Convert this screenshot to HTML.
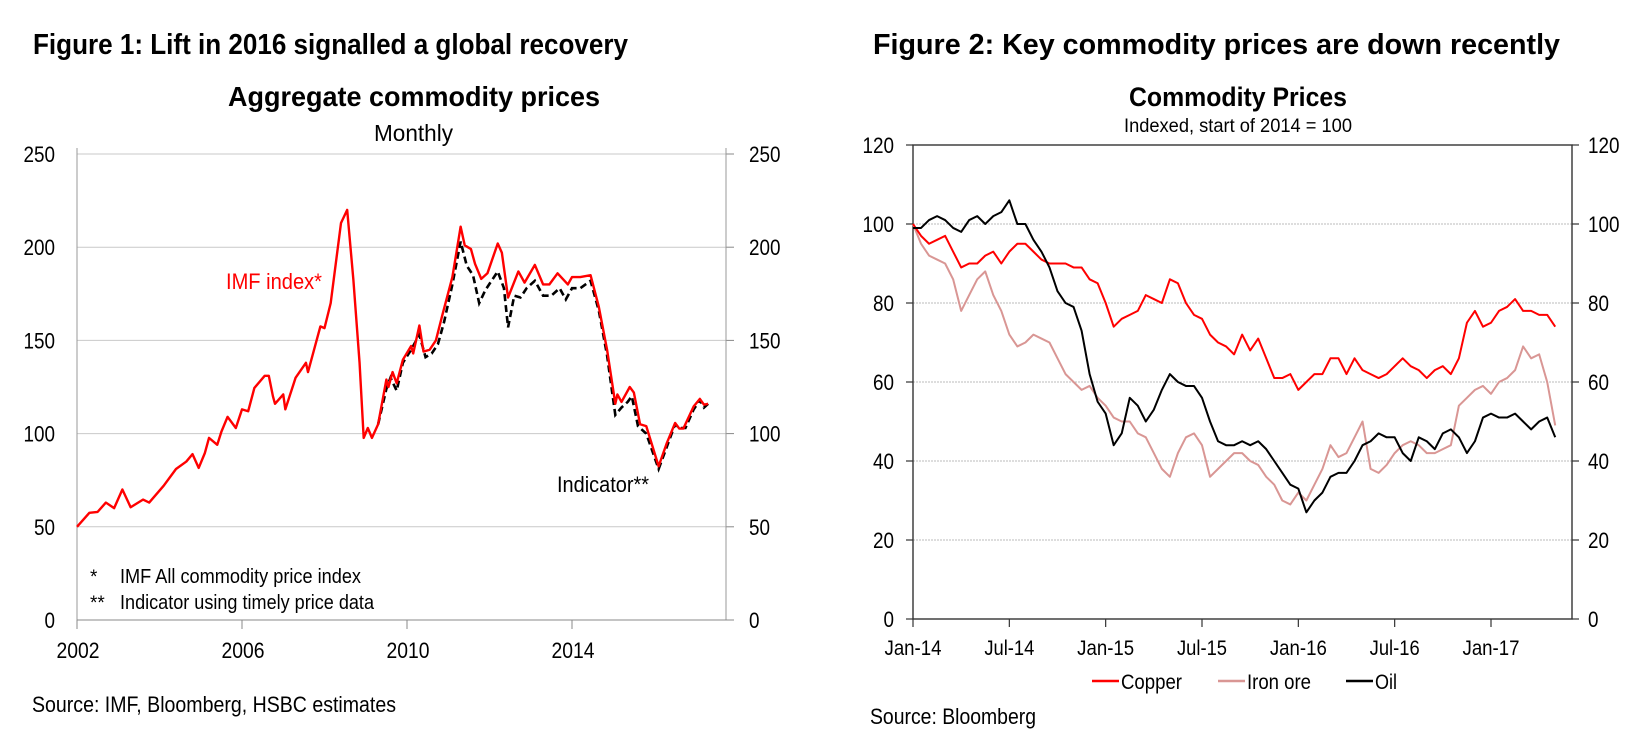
<!DOCTYPE html>
<html><head><meta charset="utf-8">
<style>
html,body{margin:0;padding:0;background:#fff;}
svg{display:block;font-family:"Liberation Sans Narrow","Liberation Sans",sans-serif;}
</style></head>
<body>
<svg id="root" width="1629" height="741" viewBox="0 0 1629 741">
<text x="33" y="54" font-size="29" font-weight="bold" textLength="595" lengthAdjust="spacingAndGlyphs">Figure 1: Lift in 2016 signalled a global recovery</text>
<text x="228" y="106" font-size="28" font-weight="bold" textLength="372" lengthAdjust="spacingAndGlyphs">Aggregate commodity prices</text>
<text x="374" y="141" font-size="23" textLength="79" lengthAdjust="spacingAndGlyphs">Monthly</text>
<text x="873" y="54" font-size="29" font-weight="bold" textLength="687" lengthAdjust="spacingAndGlyphs">Figure 2: Key commodity prices are down recently</text>
<text x="1129" y="106" font-size="27" font-weight="bold" textLength="218" lengthAdjust="spacingAndGlyphs">Commodity Prices</text>
<text x="1124" y="132" font-size="19" textLength="228" lengthAdjust="spacingAndGlyphs">Indexed, start of 2014 = 100</text>
<text x="32" y="712" font-size="22" textLength="364" lengthAdjust="spacingAndGlyphs">Source: IMF, Bloomberg, HSBC estimates</text>
<text x="870" y="724" font-size="22" textLength="166" lengthAdjust="spacingAndGlyphs">Source: Bloomberg</text>
<g id="c1"></g>
<g id="c2"></g>
</svg>
<script>
// ---------- Chart 1 data ----------
const imfYears=[2002.0,2002.3,2002.5,2002.7,2002.9,2003.1,2003.3,2003.6,2003.75,2004.1,2004.4,2004.65,2004.8,2004.95,2005.1,2005.2,2005.4,2005.5,2005.65,2005.85,2006.0,2006.15,2006.3,2006.55,2006.65,2006.75,2006.8,2007.0,2007.05,2007.3,2007.55,2007.6,2007.9,2008.0,2008.15,2008.4,2008.55,2008.7,2008.85,2008.95,2009.05,2009.15,2009.3,2009.5,2009.55,2009.65,2009.75,2009.9,2010.1,2010.15,2010.3,2010.4,2010.55,2010.7,2010.85,2011.1,2011.3,2011.4,2011.55,2011.65,2011.8,2011.95,2012.2,2012.3,2012.45,2012.7,2012.85,2013.1,2013.3,2013.45,2013.65,2013.9,2014.0,2014.2,2014.45,2014.65,2014.85,2015.05,2015.1,2015.2,2015.4,2015.5,2015.65,2015.8,2016.1,2016.3,2016.5,2016.6,2016.7,2016.95,2017.1,2017.2,2017.3];
const imfValues=[50,57.5,58,63,60,70,60.5,64.6,63,72,81,85,89,81.6,89.6,97.7,94,101,109,103,113,112,124.5,131,131,120,116,121,113,130,138,133,157.5,156.6,170,213,220,182.5,138,97.7,103,97.7,105,129,125,133,127,139.6,147,143,158,144,145,150,163,184,211,201,199,191,183,186,202,197,173,187,181,190.5,180,180,186,180,184,184,185,168,145,116,121,117,125,122,105,104,82.5,95,105.7,102.7,102.7,114.6,118.6,115.5,116];
const indYears=[2009.3,2009.5,2009.6,2009.75,2009.9,2010.1,2010.3,2010.45,2010.6,2010.75,2010.9,2011.1,2011.3,2011.45,2011.6,2011.75,2011.9,2012.2,2012.35,2012.45,2012.6,2012.75,2012.9,2013.1,2013.3,2013.5,2013.7,2013.85,2014.0,2014.2,2014.45,2014.65,2014.85,2015.05,2015.2,2015.35,2015.45,2015.6,2015.8,2016.1,2016.3,2016.5,2016.6,2016.75,2016.95,2017.1,2017.2,2017.3];
const indValues=[105,124,130,123,138,145,153,141,143,148,160,180,203,190,185,170,177,187,178,157,174,173,178,182,174,174,178,172,178,178,182,166,142,110,114,117,120,104,100,81,93,105,103,103,113,118,114,116];
const c1YTicks=[0,50,100,150,200,250];
const c1XTicks=[2002,2006,2010,2014];

// ---------- Chart 2 data (half-month steps from Jan-14) ----------
const c2Step=0.5;
const copper=[100,97,95,96,97,93,89,90,90,92,93,90,93,95,95,93,91,90,90,90,89,89,86,85,80,74,76,77,78,82,81,80,86,85,80,77,76,72,70,69,67,72,68,71,66,61,61,62,58,60,62,62,66,66,62,66,63,62,61,62,64,66,64,63,61,63,64,62,66,75,78,74,75,78,79,81,78,78,77,77,74];
const ironOre=[100,95,92,91,90,86,78,82,86,88,82,78,72,69,70,72,71,70,66,62,60,58,59,56,54,51,50,50,47,46,42,38,36,42,46,47,44,36,38,40,42,42,40,39,36,34,30,29,32,30,34,38,44,41,42,46,50,38,37,39,42,44,45,44,42,42,43,44,54,56,58,59,57,60,61,63,69,66,67,60,49];
const oil=[99,99,101,102,101,99,98,101,102,100,102,103,106,100,100,96,93,89,83,80,79,73,62,55,52,44,47,56,54,50,53,58,62,60,59,59,56,50,45,44,44,45,44,45,43,40,37,34,33,27,30,32,36,37,37,40,44,45,47,46,46,42,40,46,45,43,47,48,46,42,45,51,52,51,51,52,50,48,50,51,46];
const c2YTicks=[0,20,40,60,80,100,120];
const c2XLabels=["Jan-14","Jul-14","Jan-15","Jul-15","Jan-16","Jul-16","Jan-17"];
const c2XMonths=[0,6,12,18,24,30,36];

const NS="http://www.w3.org/2000/svg";
function mk(parent,tag,attrs,text){const e=document.createElementNS(NS,tag);for(const k in attrs)e.setAttribute(k,attrs[k]);if(text!==undefined)e.textContent=text;parent.appendChild(e);return e;}
const numW=s=>String(s).length*10.5;

// ---------- Chart 1 ----------
const c1=document.getElementById('c1');
const L1=77,R1=726,B1=620,T1=154;
const x1=yr=>L1+(yr-2002)*41.25;
const y1=v=>B1-(v/250)*(B1-T1);
c1YTicks.forEach(t=>{
  if(t>0){const g=mk(c1,'line',{x1:L1,x2:R1,y1:y1(t),y2:y1(t),stroke:'#c9c9c9','stroke-width':1});
  
  }
  const tk=mk(c1,'line',{x1:R1,x2:R1+8,y1:y1(t),y2:y1(t),stroke:'#888','stroke-width':1});
  
  
  const a=mk(c1,'text',{x:55,y:y1(t)+8,'font-size':22,'text-anchor':'end',textLength:numW(t),lengthAdjust:'spacingAndGlyphs'},t);
  
  
  const b=mk(c1,'text',{x:749,y:y1(t)+8,'font-size':22,textLength:numW(t),lengthAdjust:'spacingAndGlyphs'},t);
  
  
});
let ax=mk(c1,'line',{x1:L1,x2:L1,y1:T1-6,y2:B1,stroke:'#999','stroke-width':1});


ax=mk(c1,'line',{x1:R1,x2:R1,y1:T1-6,y2:B1,stroke:'#999','stroke-width':1});


ax=mk(c1,'line',{x1:L1,x2:R1+8,y1:B1,y2:B1,stroke:'#888','stroke-width':1});


c1XTicks.forEach(t=>{
  const tk=mk(c1,'line',{x1:x1(t),x2:x1(t),y1:B1,y2:B1+9,stroke:'#888','stroke-width':1});
  
  
  const l=mk(c1,'text',{x:x1(t)+1,y:658,'font-size':22,'text-anchor':'middle',textLength:43,lengthAdjust:'spacingAndGlyphs'},t);
  
  
});
let p=mk(c1,'polyline',{points:indYears.map((d,i)=>x1(d)+','+y1(indValues[i])).join(' '),fill:'none',stroke:'#000','stroke-width':2.6,'stroke-dasharray':'7,4'});


p=mk(c1,'polyline',{points:imfYears.map((d,i)=>x1(d)+','+y1(imfValues[i])).join(' '),fill:'none',stroke:'#f00','stroke-width':2.4,'stroke-linejoin':'round'});


let t=mk(c1,'text',{x:226,y:289,'font-size':22,fill:'#f00',textLength:96,lengthAdjust:'spacingAndGlyphs'},'IMF index*');


t=mk(c1,'text',{x:557,y:492,'font-size':22,textLength:92,lengthAdjust:'spacingAndGlyphs'},'Indicator**');


t=mk(c1,'text',{x:90,y:583,'font-size':19},'*');


t=mk(c1,'text',{x:120,y:583,'font-size':20,textLength:241,lengthAdjust:'spacingAndGlyphs'},'IMF All commodity price index');


t=mk(c1,'text',{x:90,y:609,'font-size':19},'**');


t=mk(c1,'text',{x:120,y:609,'font-size':20,textLength:254,lengthAdjust:'spacingAndGlyphs'},'Indicator using timely price data');



// ---------- Chart 2 ----------
const c2=document.getElementById('c2');
const L2=913,R2=1572,B2=619,T2=145;
const x2=m=>L2+m*(1491-913)/36;
const y2=v=>B2-(v/120)*(B2-T2);
c2YTicks.forEach(v=>{
  if(v>0&&v<120){const g=mk(c2,'line',{x1:L2,x2:R2,y1:y2(v),y2:y2(v),stroke:'#bbb','stroke-width':1,'stroke-dasharray':'2,1'});
  
  }
  let tk=mk(c2,'line',{x1:L2-7,x2:L2,y1:y2(v),y2:y2(v),stroke:'#333','stroke-width':1.2});
  
  
  tk=mk(c2,'line',{x1:R2,x2:R2+7,y1:y2(v),y2:y2(v),stroke:'#333','stroke-width':1.2});
  
  
  const a=mk(c2,'text',{x:894,y:y2(v)+8,'font-size':22,'text-anchor':'end',textLength:numW(v),lengthAdjust:'spacingAndGlyphs'},v);
  
  
  const b=mk(c2,'text',{x:1588,y:y2(v)+8,'font-size':22,textLength:numW(v),lengthAdjust:'spacingAndGlyphs'},v);
  
  
});
const fr=mk(c2,'rect',{x:L2,y:T2,width:R2-L2,height:B2-T2,fill:'none',stroke:'#333','stroke-width':1.4});


c2XMonths.forEach((m,i)=>{
  const tk=mk(c2,'line',{x1:x2(m),x2:x2(m),y1:B2,y2:B2+8,stroke:'#333','stroke-width':1.2});
  
  
  const l=mk(c2,'text',{x:x2(m),y:655,'font-size':21,'text-anchor':'middle',textLength:c2XLabels[i].startsWith('Jul')?50:57,lengthAdjust:'spacingAndGlyphs'},c2XLabels[i]);
  
  
});
function series(arr,color,name,w){
  const pl=mk(c2,'polyline',{points:arr.map((v,i)=>x2(i*c2Step)+','+y2(v)).join(' '),fill:'none',stroke:color,'stroke-width':w,'stroke-linejoin':'round'});
  
  
}
series(ironOre,'#d99694','iron-ore-line',2);
series(copper,'#f00','copper-line',2);
series(oil,'#000','oil-line',2);
const leg=[['Copper','#f00',1092,61],['Iron ore','#d99694',1218,64],['Oil','#000',1346,22]];
leg.forEach(l=>{
  const ln=mk(c2,'line',{x1:l[2],x2:l[2]+27,y1:681,y2:681,stroke:l[1],'stroke-width':2.5});
  
  
  const tx=mk(c2,'text',{x:l[2]+29,y:689,'font-size':21,textLength:l[3],lengthAdjust:'spacingAndGlyphs'},l[0]);
  
  
});
</script>
</body></html>
